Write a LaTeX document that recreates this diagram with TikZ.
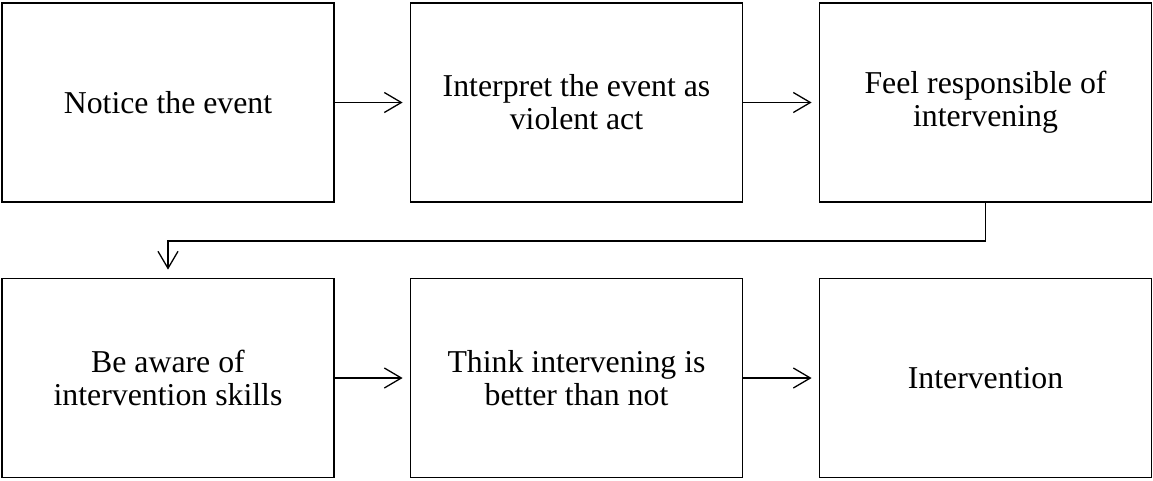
\documentclass[tikz,border=0pt]{standalone}
\usepackage{fontspec}
\setmainfont{Liberation Serif}
\usetikzlibrary{arrows.meta}
\begin{document}
\begin{tikzpicture}[x=1pt,y=-1pt,
  stagebox/.style={draw=black,line width=1.8pt,minimum width=332pt,minimum height=199pt,
    inner sep=0pt,align=center,font=\fontsize{31.8}{33}\selectfont},
  flowarrow/.style={line width=1.3pt,-{Straight Barb[length=17pt,width=20pt,line width=1.3pt]}}]
\useasboundingbox (0,0) rectangle (1153,480);
\node[stagebox] (b1) at (168,102.5) {Notice the event};
\node[stagebox] (b2) at (576.5,102.5) {Interpret the event as\\violent act};
\node[stagebox] (b3) at (985.5,102.5) {Feel responsible of\\intervening};
\node[stagebox] (b4) at (168,378) {Be aware of\\intervention skills};
\node[stagebox] (b5) at (576.5,378) {Think intervening is\\better than not};
\node[stagebox] (b6) at (985.5,378) {Intervention};
\coordinate (t2) at ([xshift=-7pt]b2.west);
\coordinate (t3) at ([xshift=-7pt]b3.west);
\coordinate (t5) at ([xshift=-7pt]b5.west);
\coordinate (t6) at ([xshift=-7pt]b6.west);
\coordinate (t4) at ([yshift=8pt]b4.north);
\draw[flowarrow] (b1.east) -- (t2);
\draw[flowarrow] (b2.east) -- (t3);
\draw[flowarrow] (b4.east) -- (t5);
\draw[flowarrow] (b5.east) -- (t6);
\draw[flowarrow] (b3.south) -- (b3.south |- 0,241) -| (t4);
\end{tikzpicture}
\end{document}
